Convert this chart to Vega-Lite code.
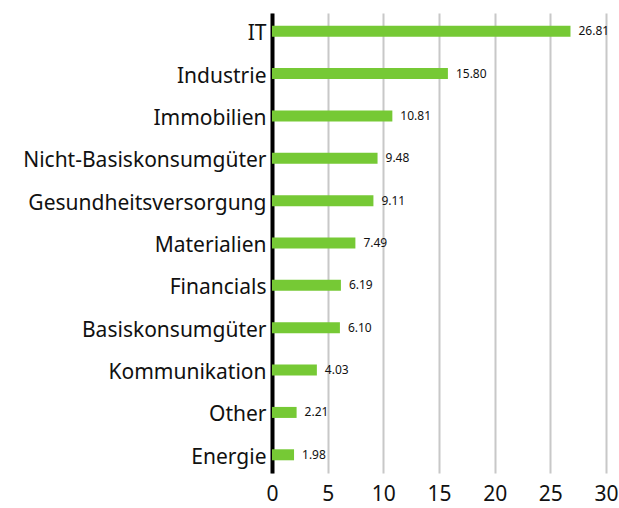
{
  "$schema": "https://vega.github.io/schema/vega-lite/v6.json",
  "autosize": "none",
  "width": 334,
  "height": 460,
  "padding": {"left": 272, "top": 13, "right": 13, "bottom": 35},
  "background": "white",
  "data": {"values": [
    {"sector": "IT", "value": 26.81},
    {"sector": "Industrie", "value": 15.80},
    {"sector": "Immobilien", "value": 10.81},
    {"sector": "Nicht-Basiskonsumgüter", "value": 9.48},
    {"sector": "Gesundheitsversorgung", "value": 9.11},
    {"sector": "Materialien", "value": 7.49},
    {"sector": "Financials", "value": 6.19},
    {"sector": "Basiskonsumgüter", "value": 6.10},
    {"sector": "Kommunikation", "value": 4.03},
    {"sector": "Other", "value": 2.21},
    {"sector": "Energie", "value": 1.98}
  ]},
  "config": {"view": {"stroke": null}, "font": "Noto Sans"},
  "encoding": {
    "y": {"field": "sector", "type": "nominal", "sort": null,
      "scale": {"paddingInner": 0.74, "paddingOuter": 0.3},
      "axis": {"title": null, "domainColor": "black", "domainWidth": 4, "ticks": false,
        "labelFontSize": 21, "labelColor": "#111", "labelPadding": 6, "labelLimit": 0, "labelFont": "Noto Sans", "labelOffset": 3}},
    "x": {"field": "value", "type": "quantitative",
      "scale": {"domain": [0, 30], "nice": false},
      "axis": {"title": null, "values": [0, 5, 10, 15, 20, 25, 30], "domain": false, "ticks": false,
        "grid": true, "gridColor": "#c8c8c8", "gridWidth": 2, "labelFlush": false,
        "labelFontSize": 21, "labelColor": "#111", "labelPadding": 10, "labelFont": "Noto Sans"}}
  },
  "layer": [
    {"mark": {"type": "bar", "color": "#76c935"}},
    {"mark": {"type": "text", "align": "left", "dx": 8, "fontSize": 12, "color": "#111"},
      "encoding": {"text": {"field": "value", "type": "quantitative", "format": ".2f"}}}
  ]
}
